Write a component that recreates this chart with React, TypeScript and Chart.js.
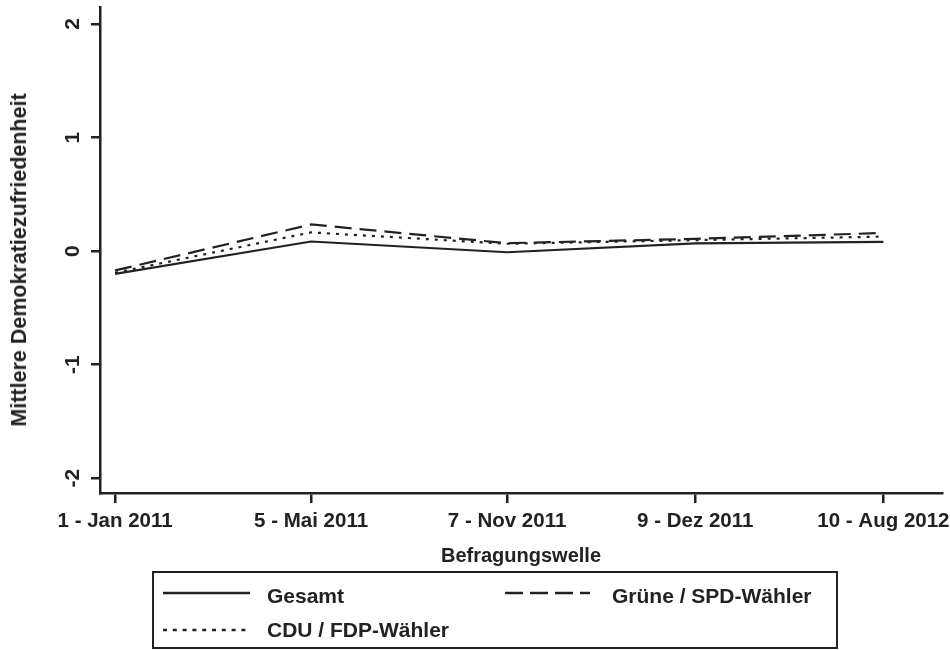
import React, { useEffect, useRef } from "react";
import { Chart, registerables } from "chart.js";

Chart.register(...registerables);

// Survey waves (x value = position of the wave on the axis)
const waveLabels = ["1 - Jan 2011", "5 - Mai 2011", "7 - Nov 2011", "9 - Dez 2011", "10 - Aug 2012"];
const wavePos = [1, 2, 3, 3.96, 4.92];

// Mean satisfaction with democracy
const gesamt = [-0.2, 0.085, -0.01, 0.068, 0.082];
const gruenSpd = [-0.17, 0.235, 0.07, 0.108, 0.16];
const cduFdp = [-0.19, 0.165, 0.065, 0.097, 0.128];

const yTicks = [-2, -1, 0, 1, 2];
const yTitle = "Mittlere Demokratiezufriedenheit";
const xTitle = "Befragungswelle";

const seriesNames = ["Gesamt", "Grüne / SPD-Wähler", "CDU / FDP-Wähler"];

const INK = "#222";
const FONT = "'Liberation Sans', Arial, sans-serif";

export default function App() {
  const ref = useRef<HTMLCanvasElement | null>(null);

  useEffect(() => {
    if (!ref.current) return;
    const mk = (vals: number[]) => vals.map((v, i) => ({ x: wavePos[i], y: v }));
    const chart = new Chart(ref.current, {
      type: "line",
      data: {
        datasets: [
          {
            label: seriesNames[2],
            data: mk(cduFdp),
            borderColor: INK,
            borderWidth: 2.2,
            borderDash: [3, 6],
            pointRadius: 0,
            tension: 0,
          },
          {
            label: seriesNames[1],
            data: mk(gruenSpd),
            borderColor: INK,
            borderWidth: 2.2,
            borderDash: [17, 8],
            pointRadius: 0,
            tension: 0,
          },
          {
            label: seriesNames[0],
            data: mk(gesamt),
            borderColor: INK,
            borderWidth: 2.2,
            pointRadius: 0,
            tension: 0,
          },
        ],
      },
      options: {
        animation: false,
        responsive: false,
        maintainAspectRatio: false,
        layout: { padding: { top: 7, right: 8, bottom: 82, left: 0 } },
        plugins: { legend: { display: false }, tooltip: { enabled: false } },
        scales: {
          x: {
            type: "linear",
            min: 0.923,
            max: 5.219,
            afterBuildTicks: (s: any) => {
              s.ticks = wavePos.map((v) => ({ value: v }));
            },
            afterFit: (s: any) => {
              s.height = 75;
              s.paddingLeft = 0;
              s.paddingRight = 0;
            },
            ticks: {
              autoSkip: false,
              maxRotation: 0,
              minRotation: 0,
              padding: 6,
              color: INK,
              font: { family: FONT, size: 20.5, weight: "bold" },
              callback: (_v: any, i: number) => waveLabels[i],
            },
            grid: {
              display: true,
              drawOnChartArea: false,
              drawTicks: true,
              tickLength: 10,
              color: INK,
              lineWidth: 2.5,
            },
            border: { display: true, color: INK, width: 2.5 },
            title: {
              display: true,
              text: xTitle,
              color: INK,
              font: { family: FONT, size: 20, weight: "bold" },
              padding: { top: 0, bottom: 0 },
            },
          },
          y: {
            type: "linear",
            min: -2.13,
            max: 2.15,
            afterBuildTicks: (s: any) => {
              s.ticks = yTicks.map((v) => ({ value: v }));
            },
            afterFit: (s: any) => {
              s.width = 100;
              s.paddingTop = 0;
              s.paddingBottom = 0;
            },
            ticks: {
              minRotation: 90,
              maxRotation: 90,
              crossAlign: "center",
              padding: 8,
              color: INK,
              font: { family: FONT, size: 21, weight: "bold" },
              callback: (v: any) => String(v),
            },
            grid: {
              display: true,
              drawOnChartArea: false,
              drawTicks: true,
              tickLength: 9,
              color: INK,
              lineWidth: 2.5,
            },
            border: { display: true, color: INK, width: 2.5 },
            title: { display: false },
          },
        },
      },
    } as any);
    return () => chart.destroy();
  }, []);

  const txt: React.CSSProperties = {
    position: "absolute",
    fontFamily: FONT,
    fontSize: 21,
    fontWeight: "bold",
    lineHeight: "24px",
    color: INK,
    whiteSpace: "nowrap",
  };

  return (
    <div style={{ position: "absolute", left: 0, top: 0, width: 950, height: 650, background: "#fff" }}>
      <canvas ref={ref} width={950} height={650} style={{ position: "absolute", left: 0, top: 0 }} />
      <div
        style={{
          ...txt,
          fontSize: 21.5,
          left: 18.5,
          top: 260,
          lineHeight: "26px",
          transform: "translate(-50%, -50%) rotate(-90deg)",
        }}
      >
        {yTitle}
      </div>
      <div
        style={{
          position: "absolute",
          left: 152,
          top: 571,
          width: 686,
          height: 78,
          border: `2px solid ${INK}`,
          boxSizing: "border-box",
        }}
      />
      <svg width={950} height={650} style={{ position: "absolute", left: 0, top: 0, pointerEvents: "none" }}>
        <line x1={163} y1={593} x2={250} y2={593} stroke={INK} strokeWidth={2.5} />
        <line x1={505} y1={593} x2={590} y2={593} stroke={INK} strokeWidth={2.5} strokeDasharray="18 7" />
        <line x1={163} y1={630} x2={250} y2={630} stroke={INK} strokeWidth={2.5} strokeDasharray="4 5.8" />
      </svg>
      <div style={{ ...txt, left: 267, top: 584 }}>{seriesNames[0]}</div>
      <div style={{ ...txt, left: 612, top: 584 }}>{seriesNames[1]}</div>
      <div style={{ ...txt, left: 267, top: 618 }}>{seriesNames[2]}</div>
    </div>
  );
}
